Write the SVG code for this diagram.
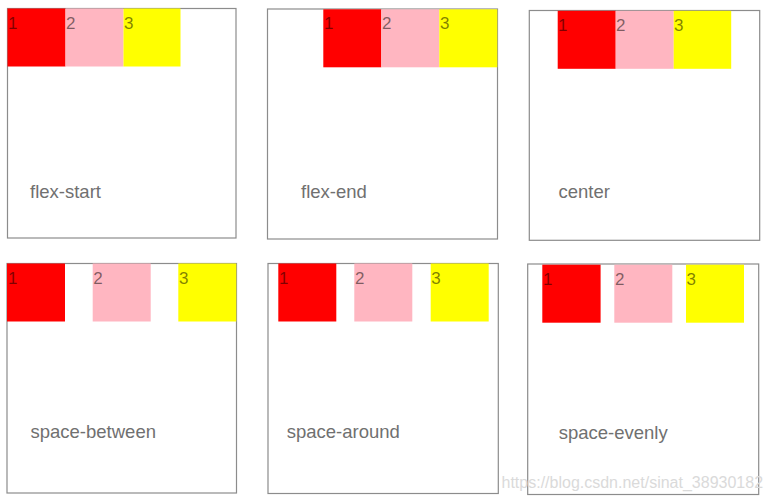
<svg xmlns="http://www.w3.org/2000/svg" width="769" height="504" viewBox="0 0 769 504">
<style>
.frame{fill:#fff;stroke:#8c8c8c;stroke-width:1.2}
.r{fill:#ff0000}
.p{fill:#ffb6c1}
.y{fill:#ffff00}
.n{font-family:"Liberation Sans",Arial,sans-serif;font-size:17px;fill:#000;fill-opacity:0.5}
.lbl{font-family:"Liberation Sans",Arial,sans-serif;font-size:18.5px;fill:#707070}
.wm{font-family:"Liberation Sans",Arial,sans-serif;font-size:16px;fill:#dadada}
</style>
<rect width="769" height="504" fill="#fff"/>
<g id="flex-start">
<rect class="frame" x="7.5" y="8.5" width="228.5" height="229.5"/>
<rect class="r" x="7.5" y="8.5" width="58" height="58"/>
<rect class="p" x="65.5" y="8.5" width="58" height="58"/>
<rect class="y" x="123.5" y="8.5" width="57" height="58"/>
<text class="n" x="8" y="28.5">1</text>
<text class="n" x="66" y="28.5">2</text>
<text class="n" x="124" y="28.5">3</text>
<text class="lbl" x="30" y="198">flex-start</text>
</g>
<g id="flex-end">
<rect class="frame" x="267.5" y="9" width="230" height="230"/>
<rect class="r" x="323.3" y="9.3" width="58" height="58"/>
<rect class="p" x="381.3" y="9.3" width="58" height="58"/>
<rect class="y" x="439.3" y="9.3" width="58" height="58"/>
<text class="n" x="324" y="29">1</text>
<text class="n" x="382" y="29">2</text>
<text class="n" x="440" y="29">3</text>
<text class="lbl" x="301" y="198">flex-end</text>
</g>
<g id="center">
<rect class="frame" x="529.3" y="10.5" width="230.4" height="229.8"/>
<rect class="r" x="557.7" y="10.8" width="58" height="58"/>
<rect class="p" x="615.7" y="10.8" width="58" height="58"/>
<rect class="y" x="673.7" y="10.8" width="57.5" height="58"/>
<text class="n" x="558" y="30.5">1</text>
<text class="n" x="616" y="30.5">2</text>
<text class="n" x="674" y="30.5">3</text>
<text class="lbl" x="558.5" y="198">center</text>
</g>
<g id="space-between">
<rect class="frame" x="7" y="263.5" width="229.5" height="229.5"/>
<rect class="r" x="7" y="263.5" width="58" height="58"/>
<rect class="p" x="92.7" y="263.5" width="58" height="58"/>
<rect class="y" x="178.3" y="263.5" width="58" height="58"/>
<text class="n" x="8" y="283.5">1</text>
<text class="n" x="93.3" y="283.5">2</text>
<text class="n" x="179" y="283.5">3</text>
<text class="lbl" x="30.5" y="438.3">space-between</text>
</g>
<g id="space-around">
<rect class="frame" x="268" y="263.5" width="230.3" height="230"/>
<rect class="r" x="278.3" y="263.5" width="58" height="58"/>
<rect class="p" x="354.3" y="263.5" width="58" height="58"/>
<rect class="y" x="430.7" y="263.5" width="58" height="58"/>
<text class="n" x="279" y="283.5">1</text>
<text class="n" x="355" y="283.5">2</text>
<text class="n" x="431.3" y="283.5">3</text>
<text class="lbl" x="286.7" y="438.3">space-around</text>
</g>
<g id="space-evenly">
<rect class="frame" x="527.7" y="264" width="231" height="230.5"/>
<rect class="r" x="542.3" y="264.7" width="58.3" height="58"/>
<rect class="p" x="614.3" y="264.7" width="58" height="58"/>
<rect class="y" x="686" y="264.7" width="58" height="58"/>
<text class="n" x="543" y="284.5">1</text>
<text class="n" x="615" y="284.5">2</text>
<text class="n" x="686.5" y="284.5">3</text>
<text class="lbl" x="558.7" y="439">space-evenly</text>
</g>
<g id="connectors"/>
<text class="wm" x="501.5" y="487.5">https://blog.csdn.net/sinat_38930182</text>
</svg>
